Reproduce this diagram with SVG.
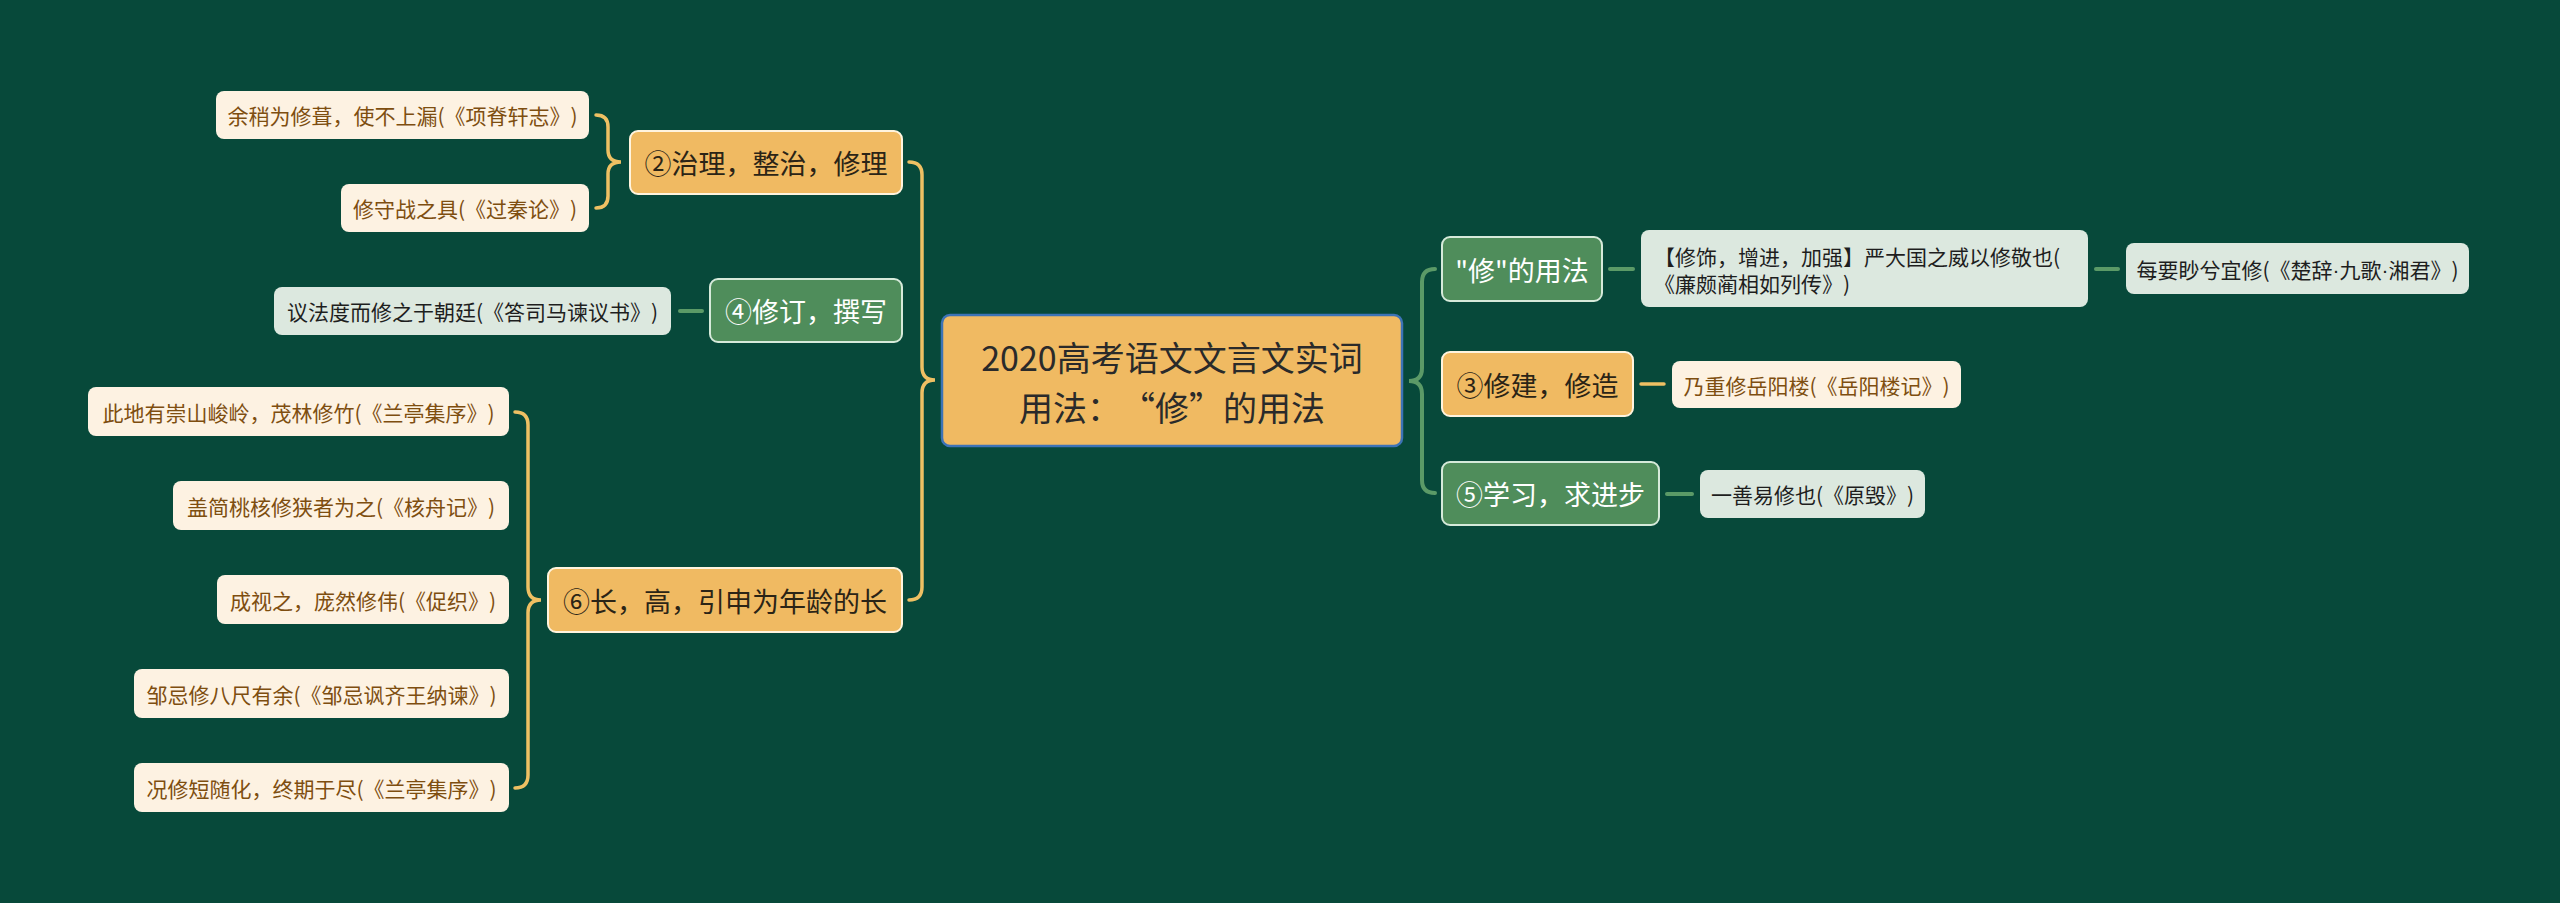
<svg xmlns="http://www.w3.org/2000/svg" width="2560" height="903" viewBox="0 0 2560 903">
<style>
text{font-family:"Noto Sans CJK SC","Noto Sans",sans-serif;dominant-baseline:central;text-anchor:middle;text-spacing-trim:space-all;font-kerning:none}
.on rect{fill:#F0BA62;stroke:#FFF4DE;stroke-width:2}
.on text{fill:#2B2416;font-size:27px}
.gn rect{fill:#4F8D5B;stroke:#D6EADA;stroke-width:2}
.gn text{fill:#FFFFFF;font-size:27px}
.ol rect{fill:#FDF2E2}
.ol text{fill:#7E4E10;font-size:21px}
.gl rect{fill:#DCE8DF}
.gl text{fill:#1E1E1E;font-size:21px}
.dot{font-family:"Liberation Sans",sans-serif}
.gold{fill:none;stroke:#EEC063;stroke-width:3.5;stroke-linecap:round}
.green{fill:none;stroke:#5B9A67;stroke-width:4;stroke-linecap:round}
</style>
<rect x="0" y="0" width="2560" height="903" fill="#07493A"/>
<g id="connectors">
<path class="gold" d="M909 162 Q922 162 922 175 L922 367 Q922 380 935 380 Q922 380 922 393 L922 587 Q922 600 909 600"/>
<path class="green" d="M1435 269 Q1422 269 1422 282 L1422 368 Q1422 381 1409 381 Q1422 381 1422 394 L1422 480 Q1422 493 1435 493"/>
<path class="gold" d="M596 115 Q608 115 608 127 L608 150 Q608 162 621 162 Q608 162 608 174 L608 196 Q608 208 596 208"/>
<path class="gold" d="M515 412 Q528 412 528 425 L528 587 Q528 600 541 600 Q528 600 528 613 L528 775 Q528 788 515 788"/>
<path class="green" d="M680 311 L702 311"/>
<path class="green" d="M1610 269 L1633 269"/>
<path class="green" d="M2096 269 L2118 269"/>
<path class="gold" d="M1641 384 L1664 384"/>
<path class="green" d="M1667 494 L1692 494"/>
</g>
<g id="center">
<rect x="942" y="315" width="460" height="131" rx="8" fill="#F0BA62" stroke="#3D73B6" stroke-width="2.5"/>
<text x="1172" y="356" font-size="34" fill="#2A2A2A">2020高考语文文言文实词</text>
<text x="1172" y="406" font-size="34" fill="#2A2A2A">用法：“修”的用法</text>
</g>
<g id="n2" class="on">
<rect x="630" y="131" width="272" height="63" rx="8"/>
<text x="766" y="162.5">②治理，整治，修理</text>
</g>
<g id="n2a" class="ol">
<rect x="216" y="91" width="373" height="48" rx="8"/>
<text x="402.5" y="115">余稍为修葺，使不上漏(《项脊轩志》)</text>
</g>
<g id="n2b" class="ol">
<rect x="341" y="184" width="248" height="48" rx="8"/>
<text x="465" y="208">修守战之具(《过秦论》)</text>
</g>
<g id="n4" class="gn">
<rect x="710" y="279" width="192" height="63" rx="8"/>
<text x="806" y="310.5">④修订，撰写</text>
</g>
<g id="n4a" class="gl">
<rect x="274" y="287" width="397" height="48" rx="8"/>
<text x="472.5" y="311">议法度而修之于朝廷(《答司马谏议书》)</text>
</g>
<g id="n6" class="on">
<rect x="548" y="568" width="354" height="64" rx="8"/>
<text x="725" y="600">⑥长，高，引申为年龄的长</text>
</g>
<g id="n6a" class="ol">
<rect x="88" y="387" width="421" height="49" rx="8"/>
<text x="298.5" y="411.5">此地有崇山峻岭，茂林修竹(《兰亭集序》)</text>
</g>
<g id="n6b" class="ol">
<rect x="173" y="481" width="336" height="49" rx="8"/>
<text x="341" y="505.5">盖简桃核修狭者为之(《核舟记》)</text>
</g>
<g id="n6c" class="ol">
<rect x="217" y="575" width="292" height="49" rx="8"/>
<text x="363" y="599.5">成视之，庞然修伟(《促织》)</text>
</g>
<g id="n6d" class="ol">
<rect x="134" y="669" width="375" height="49" rx="8"/>
<text x="321.5" y="693.5">邹忌修八尺有余(《邹忌讽齐王纳谏》)</text>
</g>
<g id="n6e" class="ol">
<rect x="134" y="763" width="375" height="49" rx="8"/>
<text x="321.5" y="787.5">况修短随化，终期于尽(《兰亭集序》)</text>
</g>
<g id="n1" class="gn">
<rect x="1442" y="237" width="160" height="64" rx="8"/>
<text x="1522" y="269">"修"的用法</text>
</g>
<g id="n1a" class="gl">
<rect x="1641" y="230" width="447" height="77" rx="8"/>
<text x="1654" y="256" style="text-anchor:start">【修饰，增进，加强】严大国之威以修敬也(</text>
<text x="1654" y="283" style="text-anchor:start">《廉颇蔺相如列传》)</text>
</g>
<g id="n1b" class="gl">
<rect x="2126" y="243" width="343" height="51" rx="8"/>
<text x="2297.5" y="268.5">每要眇兮宜修(《楚辞<tspan class="dot">·</tspan>九歌<tspan class="dot">·</tspan>湘君》)</text>
</g>
<g id="n3" class="on">
<rect x="1442" y="352" width="191" height="64" rx="8"/>
<text x="1537.5" y="384">③修建，修造</text>
</g>
<g id="n3a" class="ol">
<rect x="1672" y="361" width="289" height="47" rx="8"/>
<text x="1816.5" y="384.5">乃重修岳阳楼(《岳阳楼记》)</text>
</g>
<g id="n5" class="gn">
<rect x="1442" y="462" width="217" height="63" rx="8"/>
<text x="1550.5" y="493.5">⑤学习，求进步</text>
</g>
<g id="n5a" class="gl">
<rect x="1700" y="470" width="225" height="48" rx="8"/>
<text x="1812.5" y="494">一善易修也(《原毁》)</text>
</g>
</svg>
